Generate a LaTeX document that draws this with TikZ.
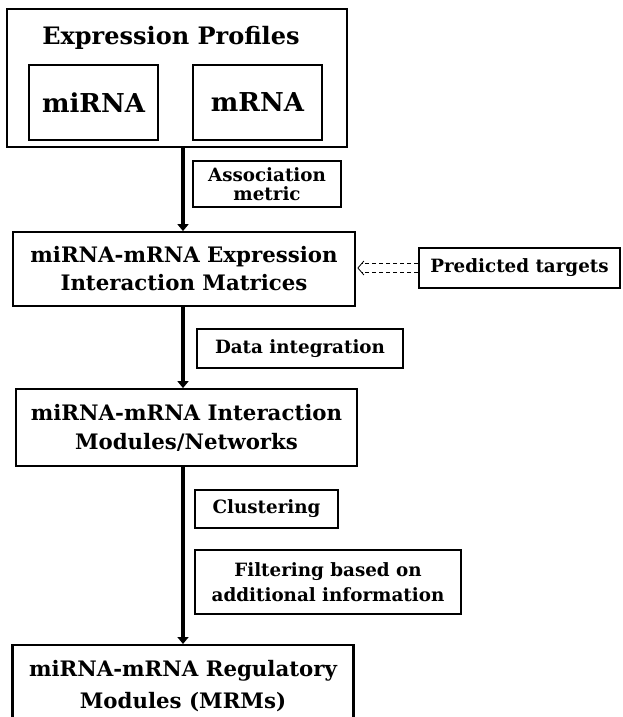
\documentclass[tikz,border=0pt]{standalone}
\usepackage{fontspec}
\setmainfont{DejaVu Serif}
\usetikzlibrary{arrows.meta}
\tikzset{
  box/.style={draw=black, line width=1.8pt, rectangle, inner sep=0pt, align=center, font=\bfseries},
  stage/.style={box, font=\bfseries\fontsize{21.3}{28}\selectfont},
  note/.style={draw=black, line width=1.6pt, rectangle, inner sep=0pt, align=center, font=\bfseries\fontsize{18.3}{20}\selectfont},
  flow/.style={line width=4pt, -{Triangle[length=7pt,width=11pt]}},
  hint/.style={draw=black, dashed, line width=0.9pt, dash pattern=on 4.5pt off 2.5pt},
}
\begin{document}
\begin{tikzpicture}[x=1pt, y=-1pt]
\useasboundingbox (0,0) rectangle (622,717);
\clip (0,0) rectangle (622,717);

% expression profiles
\node[box, minimum width=340pt, minimum height=138pt] (prof) at (177,78) {};
\node[font=\bfseries\fontsize{24}{28}\selectfont] (proft) at (171,38) {Expression Profiles};
\node[box, minimum width=129pt, minimum height=75pt, font=\bfseries\fontsize{26}{30}\selectfont] (mir) at (93.5,102.5) {miRNA};
\node[box, minimum width=129pt, minimum height=75pt, font=\bfseries\fontsize{26}{30}\selectfont] (mr) at (257.5,102.5) {mRNA};

% main stages
\node[stage, minimum width=342pt, minimum height=74pt] (mat) at (184,269) {miRNA-mRNA Expression\\Interaction Matrices};
\node[stage, minimum width=341pt, minimum height=77pt, font=\bfseries\fontsize{21.3}{29}\selectfont] (net) at (186.5,427.5) {miRNA-mRNA Interaction\\Modules/Networks};
\node[stage, minimum width=340pt, minimum height=82pt, anchor=north, font=\bfseries\fontsize{21.3}{32}\selectfont] (mrm) at (183,644) {miRNA-mRNA Regulatory\\Modules (MRMs)};
\draw[line width=1.8pt] (mrm.north west) -- ++(0,80) (mrm.north east) -- ++(0,80);

% side notes
\node[note, minimum width=148pt, minimum height=46pt, font=\bfseries\fontsize{18.3}{18.5}\selectfont] (assoc) at (267,184) {Association\\metric};
\node[note, minimum width=201pt, minimum height=40pt] (pred) at (519.5,268) {Predicted targets};
\node[note, minimum width=206pt, minimum height=39pt] (integ) at (300,348.5) {Data integration};
\node[note, minimum width=143pt, minimum height=38pt] (clus) at (266.5,509) {Clustering};
\node[note, minimum width=266pt, minimum height=64pt, font=\bfseries\fontsize{18.3}{25}\selectfont] (filt) at (328,582) {Filtering based on\\additional information};

% connectors
\draw[flow] (prof.south -| 183,0) -- (mat.north -| 183,0);
\draw[flow] (mat.south -| 183,0) -- (net.north -| 183,0);
\draw[flow] (net.south -| 183,0) -- (mrm.north -| 183,0);

% dashed double arrow from the predicted targets
\coordinate (tip) at ([xshift=2pt]mat.east |- pred.west);
\draw[hint] ([yshift=4.5pt]pred.west) -- ([xshift=4pt,yshift=4.5pt]tip);
\draw[hint] ([yshift=-4.5pt]pred.west) -- ([xshift=4pt,yshift=-4.5pt]tip);
\draw[line width=0.8pt] ([xshift=6pt,yshift=7pt]tip) -- (tip) -- ([xshift=6pt,yshift=-7pt]tip);
\end{tikzpicture}
\end{document}
